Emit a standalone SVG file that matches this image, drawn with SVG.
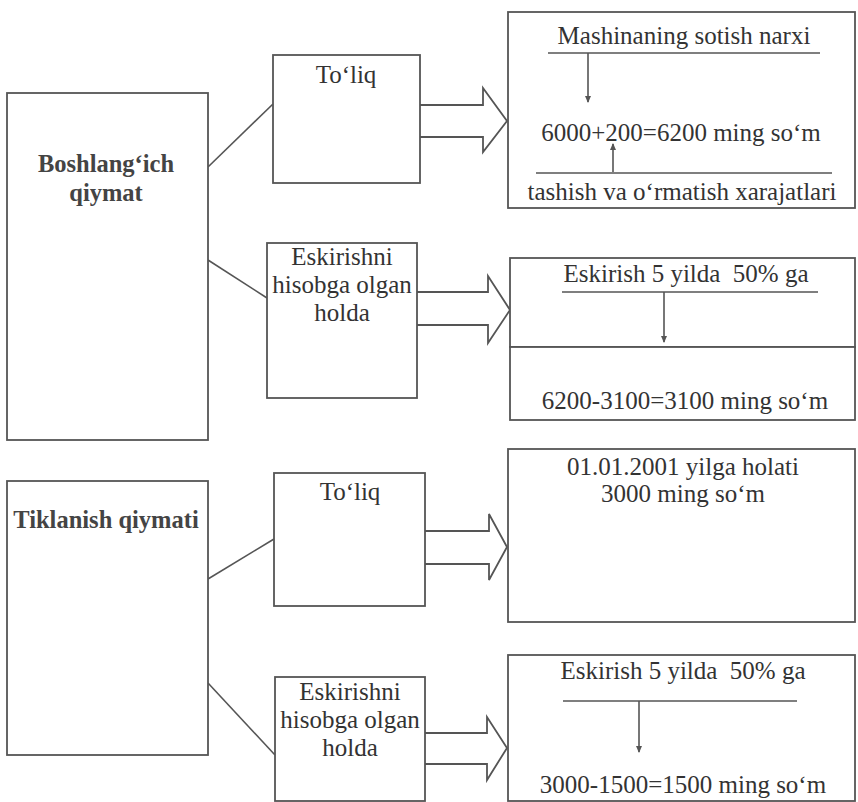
<svg xmlns="http://www.w3.org/2000/svg" width="858" height="802" viewBox="0 0 858 802">
<style>
.box{fill:#fff;stroke:#555;stroke-width:1.8}
.ln{fill:none;stroke:#555;stroke-width:1.6}
.blk{fill:#fff;stroke:#555;stroke-width:1.8;stroke-linejoin:miter}
.t{font-family:"Liberation Serif","Times New Roman","DejaVu Serif",serif;font-size:25px;fill:#333;text-anchor:middle}
.b{font-family:"Liberation Serif","Times New Roman","DejaVu Serif",serif;font-size:24.5px;font-weight:bold;fill:#444;text-anchor:middle}
</style>
<defs>
<marker id="ah" markerWidth="8" markerHeight="8" refX="6" refY="4" orient="auto" markerUnits="userSpaceOnUse">
<path d="M0,1 L7,4 L0,7 Z" fill="#555"/>
</marker>
</defs>
<rect width="858" height="802" fill="#fff"/>
<g id="connectors">
<line class="ln" x1="208" y1="167" x2="273" y2="104"/>
<line class="ln" x1="208" y1="260" x2="267" y2="298"/>
<line class="ln" x1="208" y1="579" x2="274" y2="539"/>
<line class="ln" x1="208" y1="683" x2="275" y2="755"/>
<path class="blk" d="M420,105 H483 V88 L507,121 L483,152 V137 H420"/>
<path class="blk" d="M417,292 H488 V276 L510,310 L488,343 V325 H417"/>
<path class="blk" d="M425,531 H489 V514 L507,547 L489,580 V564 H425"/>
<path class="blk" d="M425,733 H487 V717 L507,748 L487,780 V764 H425"/>
</g>
<g id="boshlangich">
<rect class="box" x="7" y="93" width="201" height="347"/>
<text class="b" x="106" y="172">Boshlang‘ich</text>
<text class="b" x="106" y="201">qiymat</text>
</g>
<g id="toliq1">
<rect class="box" x="273" y="55" width="147" height="128"/>
<text class="t" x="346" y="83">To‘liq</text>
</g>
<g id="eskirishni1">
<rect class="box" x="267" y="243" width="150" height="155"/>
<text class="t" x="342" y="265">Eskirishni</text>
<text class="t" x="342" y="293">hisobga olgan</text>
<text class="t" x="342" y="321">holda</text>
</g>
<g id="sotish">
<rect class="box" x="508" y="12" width="347" height="196"/>
<text class="t" x="684" y="44">Mashinaning sotish narxi</text>
<line class="ln" x1="548" y1="53" x2="820" y2="53"/>
<line class="ln" x1="588" y1="53" x2="588" y2="102" marker-end="url(#ah)"/>
<text class="t" x="681" y="141">6000+200=6200 ming so‘m</text>
<line class="ln" x1="613" y1="172" x2="613" y2="144" marker-end="url(#ah)"/>
<line class="ln" x1="536" y1="173" x2="832" y2="173"/>
<text class="t" x="682" y="200">tashish va o‘rmatish xarajatlari</text>
</g>
<g id="eskirish1">
<rect class="box" x="510" y="258" width="345" height="89"/>
<rect class="box" x="510" y="347" width="345" height="73"/>
<text class="t" x="686" y="282">Eskirish 5 yilda&#160; 50% ga</text>
<line class="ln" x1="562" y1="292" x2="818" y2="292"/>
<line class="ln" x1="664" y1="292" x2="664" y2="342" marker-end="url(#ah)"/>
<text class="t" x="685" y="409">6200-3100=3100 ming so‘m</text>
</g>
<g id="tiklanish">
<rect class="box" x="7" y="481" width="201" height="274"/>
<text class="b" x="106" y="528">Tiklanish qiymati</text>
</g>
<g id="toliq2">
<rect class="box" x="274" y="473" width="151" height="133"/>
<text class="t" x="350" y="500">To‘liq</text>
</g>
<g id="eskirishni2">
<rect class="box" x="275" y="677" width="150" height="124"/>
<text class="t" x="350" y="700">Eskirishni</text>
<text class="t" x="350" y="728">hisobga olgan</text>
<text class="t" x="350" y="756">holda</text>
</g>
<g id="holati">
<rect class="box" x="508" y="449" width="347" height="173"/>
<text class="t" x="683" y="475">01.01.2001 yilga holati</text>
<text class="t" x="683" y="502">3000 ming so‘m</text>
</g>
<g id="eskirish2">
<rect class="box" x="508" y="655" width="347" height="146"/>
<text class="t" x="683" y="679">Eskirish 5 yilda&#160; 50% ga</text>
<line class="ln" x1="563" y1="701" x2="797" y2="701"/>
<line class="ln" x1="639" y1="701" x2="639" y2="752" marker-end="url(#ah)"/>
<text class="t" x="683" y="793">3000-1500=1500 ming so‘m</text>
</g>
</svg>
